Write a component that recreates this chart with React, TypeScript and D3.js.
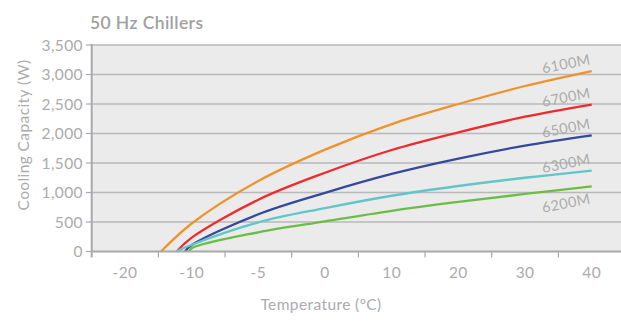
import React from "react";
import * as d3 from "d3";

const xCategories = [-20, -10, -5, 0, 10, 20, 30, 40];
const yTicks = [0, 500, 1000, 1500, 2000, 2500, 3000, 3500];

const temps6100 = [-14.6, -10, -5, 0, 10, 20, 30, 40];
const cap6100 = [0, 475, 1195, 1726, 2160, 2500, 2805, 3058];
const temps6700 = [-12.25, -10, -5, 0, 10, 20, 30, 40];
const cap6700 = [0, 235, 878, 1335, 1720, 2020, 2285, 2491];
const temps6500 = [-11, -10, -5, 0, 10, 20, 30, 40];
const cap6500 = [0, 110, 632, 995, 1315, 1575, 1795, 1969];
const temps6300 = [-12.35, -10, -5, 0, 10, 20, 30, 40];
const cap6300 = [0, 115, 495, 735, 945, 1110, 1250, 1369];
const temps6200 = [-10.4, -10, -5, 0, 10, 20, 30, 40];
const cap6200 = [0, 56, 326, 512, 690, 840, 975, 1102];

const seriesNames = ["6100M", "6700M", "6500M", "6300M", "6200M"];
const seriesColors = ["#F0922B", "#EE2A2E", "#34499B", "#62C6C8", "#6BBE45"];
const seriesTemps = [temps6100, temps6700, temps6500, temps6300, temps6200];
const seriesCaps = [cap6100, cap6700, cap6500, cap6300, cap6200];
const labelOffsets = [-7, -7, -7, -7, 17];

const W = 621;
const H = 329;
const M = { left: 91.7, right: 0, top: 45, bottom: 78 };
const FONT = "Lato, 'Open Sans', sans-serif";
const TEXT = "#ababab";

export default function App() {
  const band = d3
    .scaleBand<number>()
    .domain(xCategories)
    .range([M.left, M.left + 8 * 66.67])
    .padding(0);
  const x = d3
    .scaleLinear()
    .domain(xCategories)
    .range(xCategories.map((c) => (band(c) as number) + band.bandwidth() / 2));
  const y = d3
    .scaleLinear()
    .domain([0, 3500])
    .range([H - M.bottom + 0.5, M.top]);

  const line = d3
    .line<[number, number]>()
    .x((d) => x(d[0]))
    .y((d) => y(d[1]))
    .curve(d3.curveCatmullRom.alpha(0.5));

  const y0 = y(0);
  const plotRight = W;

  return (
    <svg
      width={W}
      height={H}
      style={{ position: "absolute", left: 0, top: 0, fontFamily: FONT }}
    >
      <text x={90} y={29} fontSize={17.5} fill="#a0a0a0" fontWeight={600} letterSpacing={0.4}>
        50 Hz Chillers
      </text>
      <rect
        x={M.left}
        y={y(3500)}
        width={plotRight - M.left}
        height={y0 - y(3500)}
        fill="#ebebeb"
      />
      {yTicks.map((t) => (
        <g key={t}>
          {t > 0 && (
            <line
              x1={M.left}
              x2={plotRight}
              y1={y(t)}
              y2={y(t)}
              stroke="#b9b9bb"
              strokeWidth={1.6}
            />
          )}
          <line x1={86} x2={M.left} y1={y(t)} y2={y(t)} stroke="#a9a9ab" strokeWidth={1.2} />
          <text
            x={83}
            y={y(t)}
            dy="0.36em"
            textAnchor="end"
            fontSize={15.5}
            fill={TEXT}
            letterSpacing={0.4}
          >
            {d3.format(",")(t)}
          </text>
        </g>
      ))}
      {seriesNames.map((name, i) => {
        const pts = seriesTemps[i].map((t, j) => [t, seriesCaps[i][j]] as [number, number]);
        return (
          <path
            key={name}
            d={line(pts) || ""}
            fill="none"
            stroke={seriesColors[i]}
            strokeWidth={2.3}
          />
        );
      })}
      {seriesNames.map((name, i) => {
        const last = seriesCaps[i][seriesCaps[i].length - 1];
        const lx = x(40) - 0.5;
        const ly = y(last) + labelOffsets[i];
        return (
          <text
            key={name}
            x={lx}
            y={ly}
            textAnchor="end"
            fontSize={14.5}
            fill={TEXT}
            letterSpacing={0.4}
            transform={`rotate(-11 ${lx} ${ly})`}
          >
            {name}
          </text>
        );
      })}
      <line x1={M.left} x2={M.left} y1={y(3500) - 1} y2={y0 + 6} stroke="#a9a9ab" strokeWidth={2} />
      <line x1={M.left} x2={plotRight} y1={y0} y2={y0} stroke="#a9a9ab" strokeWidth={2} />
      {xCategories.slice(1).map((c) => (
        <line
          key={c}
          x1={band(c) as number}
          x2={band(c) as number}
          y1={y0}
          y2={y0 + 6}
          stroke="#a9a9ab"
          strokeWidth={1.2}
        />
      ))}
      {xCategories.map((c) => (
        <text
          key={c}
          x={x(c)}
          y={277.5}
          textAnchor="middle"
          fontSize={15.5}
          fill={TEXT}
          letterSpacing={0.4}
        >
          {c}
        </text>
      ))}
      <text x={321} y={310} textAnchor="middle" fontSize={15.5} fill={TEXT} letterSpacing={0.4}>
        Temperature (ºC)
      </text>
      <text
        transform={`translate(29,135) rotate(-90)`}
        textAnchor="middle"
        fontSize={15.5}
        fill={TEXT}
        letterSpacing={0.4}
      >
        Cooling Capacity (W)
      </text>
    </svg>
  );
}
